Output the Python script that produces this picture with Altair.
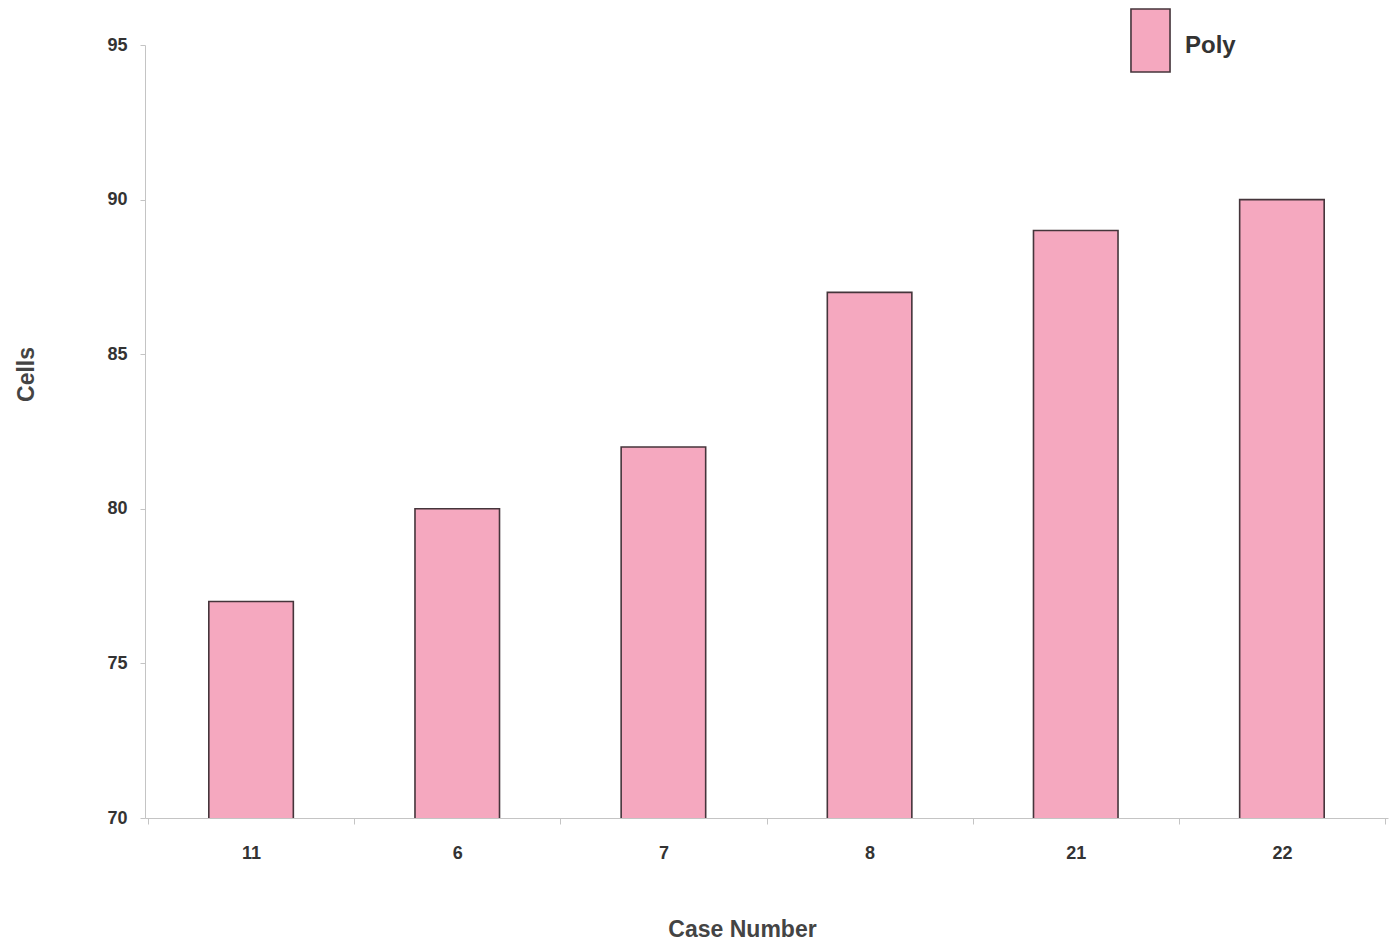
import altair as alt
import pandas as pd

# Case numbers in plotting order and their cell counts
cases = ["11", "6", "7", "8", "21", "22"]
cells = [77, 80, 82, 87, 89, 90]
series = ["Poly"] * len(cases)

df = pd.DataFrame({"case": cases, "cells": cells, "series": series})

FONT = "Liberation Sans"
BAR_FILL = "#f5a8bf"
BAR_EDGE = "#45353b"
AXIS_GREY = "#c4c4c4"

bars = (
    alt.Chart(df)
    .mark_bar(
        stroke=BAR_EDGE,
        strokeWidth=1.6,
        clip=True,
        width=alt.RelativeBandSize(0.41),
    )
    .encode(
        x=alt.X(
            "case:N",
            sort=cases,
            title="Case Number",
            scale=alt.Scale(paddingInner=0, paddingOuter=0.0145),
            axis=alt.Axis(
                labelAngle=0,
                tickBand="extent",
                tickSize=6,
                labelPadding=20,
                domainColor=AXIS_GREY,
                tickColor=AXIS_GREY,
                labelFont=FONT,
                labelFontSize=18,
                labelFontWeight="bold",
                labelColor="#333333",
                titleFont=FONT,
                titleFontSize=23,
                titleFontWeight="bold",
                titleColor="#444444",
                titleX=597,
                titleY=118,
                titleBaseline="alphabetic",
                titleAnchor="middle",
                titleAlign="center",
            ),
        ),
        y=alt.Y(
            "cells:Q",
            title="Cells",
            scale=alt.Scale(domain=[70, 95], zero=False, nice=False),
            axis=alt.Axis(
                values=[70, 75, 80, 85, 90, 95],
                grid=False,
                tickSize=5,
                labelPadding=13,
                domainColor=AXIS_GREY,
                tickColor=AXIS_GREY,
                labelFont=FONT,
                labelFontSize=18,
                labelFontWeight="bold",
                labelColor="#333333",
                titleFont=FONT,
                titleFontSize=23,
                titleFontWeight="bold",
                titleColor="#444444",
                titleX=-112,
                titleY=329,
                titleBaseline="alphabetic",
                titleAlign="center",
                titleAngle=270,
            ),
        ),
        color=alt.Color(
            "series:N",
            scale=alt.Scale(domain=["Poly"], range=[BAR_FILL]),
            legend=alt.Legend(
                title=None,
                orient="none",
                legendX=973,
                legendY=-32,
                padding=0,
                # tall swatch, drawn slightly above the label's centre line
                symbolType="M-0.62,-1.16L0.62,-1.16L0.62,0.84L-0.62,0.84Z",
                symbolSize=3969,
                symbolStrokeColor=BAR_EDGE,
                symbolStrokeWidth=1.6,
                symbolFillColor=BAR_FILL,
                symbolOpacity=1,
                labelFont=FONT,
                labelFontSize=24,
                labelFontWeight="bold",
                labelColor="#333333",
                labelOffset=2,
            ),
        ),
    )
)

chart = (
    bars.properties(
        width=1243,
        height=773,
        padding={"left": 145, "top": 45, "right": 5, "bottom": 129},
        autosize=alt.AutoSizeParams(type="none"),
        background="white",
    )
    .configure_view(stroke=None)
)

chart.save("out.html", embed_options={"renderer": "svg", "actions": False})
